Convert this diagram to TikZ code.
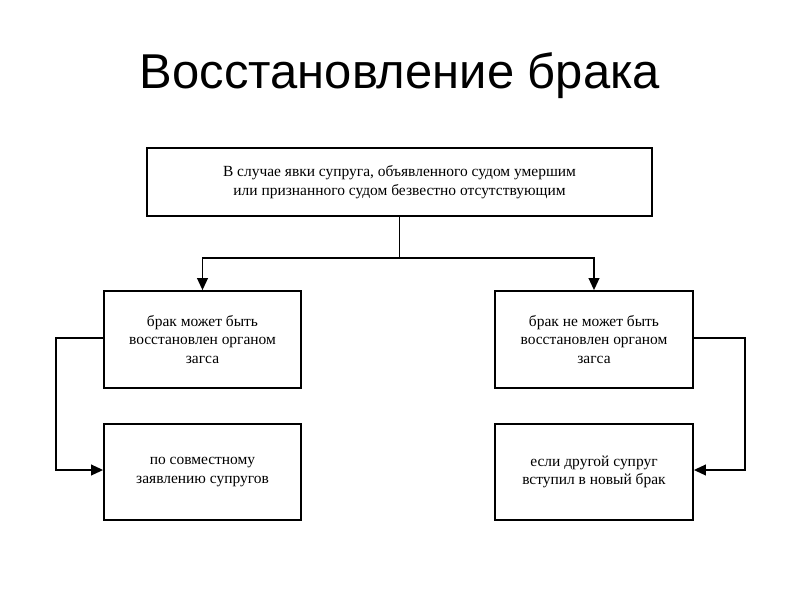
\documentclass[tikz,border=0pt]{standalone}
\usepackage{fontspec}
\setmainfont{Liberation Serif}
\newfontfamily\titlefont{Liberation Sans}
\usetikzlibrary{arrows.meta}
\begin{document}
\begin{tikzpicture}[x=0.75pt,y=-0.75pt,
  box/.style={draw, line width=1.3pt, align=center, font=\fontsize{11.6}{14}\selectfont, inner sep=0pt},
  conn/.style={line width=1.3pt},
  arr/.style={line width=1.3pt, -{Triangle[length=9pt,width=8pt]}}]
\useasboundingbox (0,0) rectangle (800,600);
\node[font=\titlefont\fontsize{36.7}{44}\selectfont] (title) at (400,76) {Восстановление брака};
\node[box, minimum width=505*0.75pt, minimum height=68*0.75pt] (top) at (399.5,182) {В случае явки супруга, объявленного судом умершим\\или признанного судом безвестно отсутствующим};
\node[box, minimum width=197*0.75pt, minimum height=97*0.75pt] (l1) at (202.5,339.5) {брак может быть\\восстановлен органом\\загса};
\node[box, minimum width=197*0.75pt, minimum height=96*0.75pt] (l2) at (202.5,472) {по совместному\\заявлению супругов};
\node[box, minimum width=198*0.75pt, minimum height=97*0.75pt] (r1) at (594,339.5) {брак не может быть\\восстановлен органом\\загса};
\node[box, minimum width=198*0.75pt, minimum height=96*0.75pt] (r2) at (594,472) {если другой супруг\\вступил в новый брак};
\coordinate (split) at (399.5,258);
\draw[conn] (top.south) -- (split);
\draw[arr] (split) -| (l1.north);
\draw[arr] (split) -| (r1.north);
\coordinate (lc1) at (56,338);
\coordinate (lc2) at (56,470);
\draw[arr] (l1.west |- lc1) -- (lc1) -- (lc2) -- (l2.west |- lc2);
\coordinate (rc1) at (745,338);
\coordinate (rc2) at (745,470);
\draw[arr] (r1.east |- rc1) -- (rc1) -- (rc2) -- (r2.east |- rc2);
\end{tikzpicture}
\end{document}
